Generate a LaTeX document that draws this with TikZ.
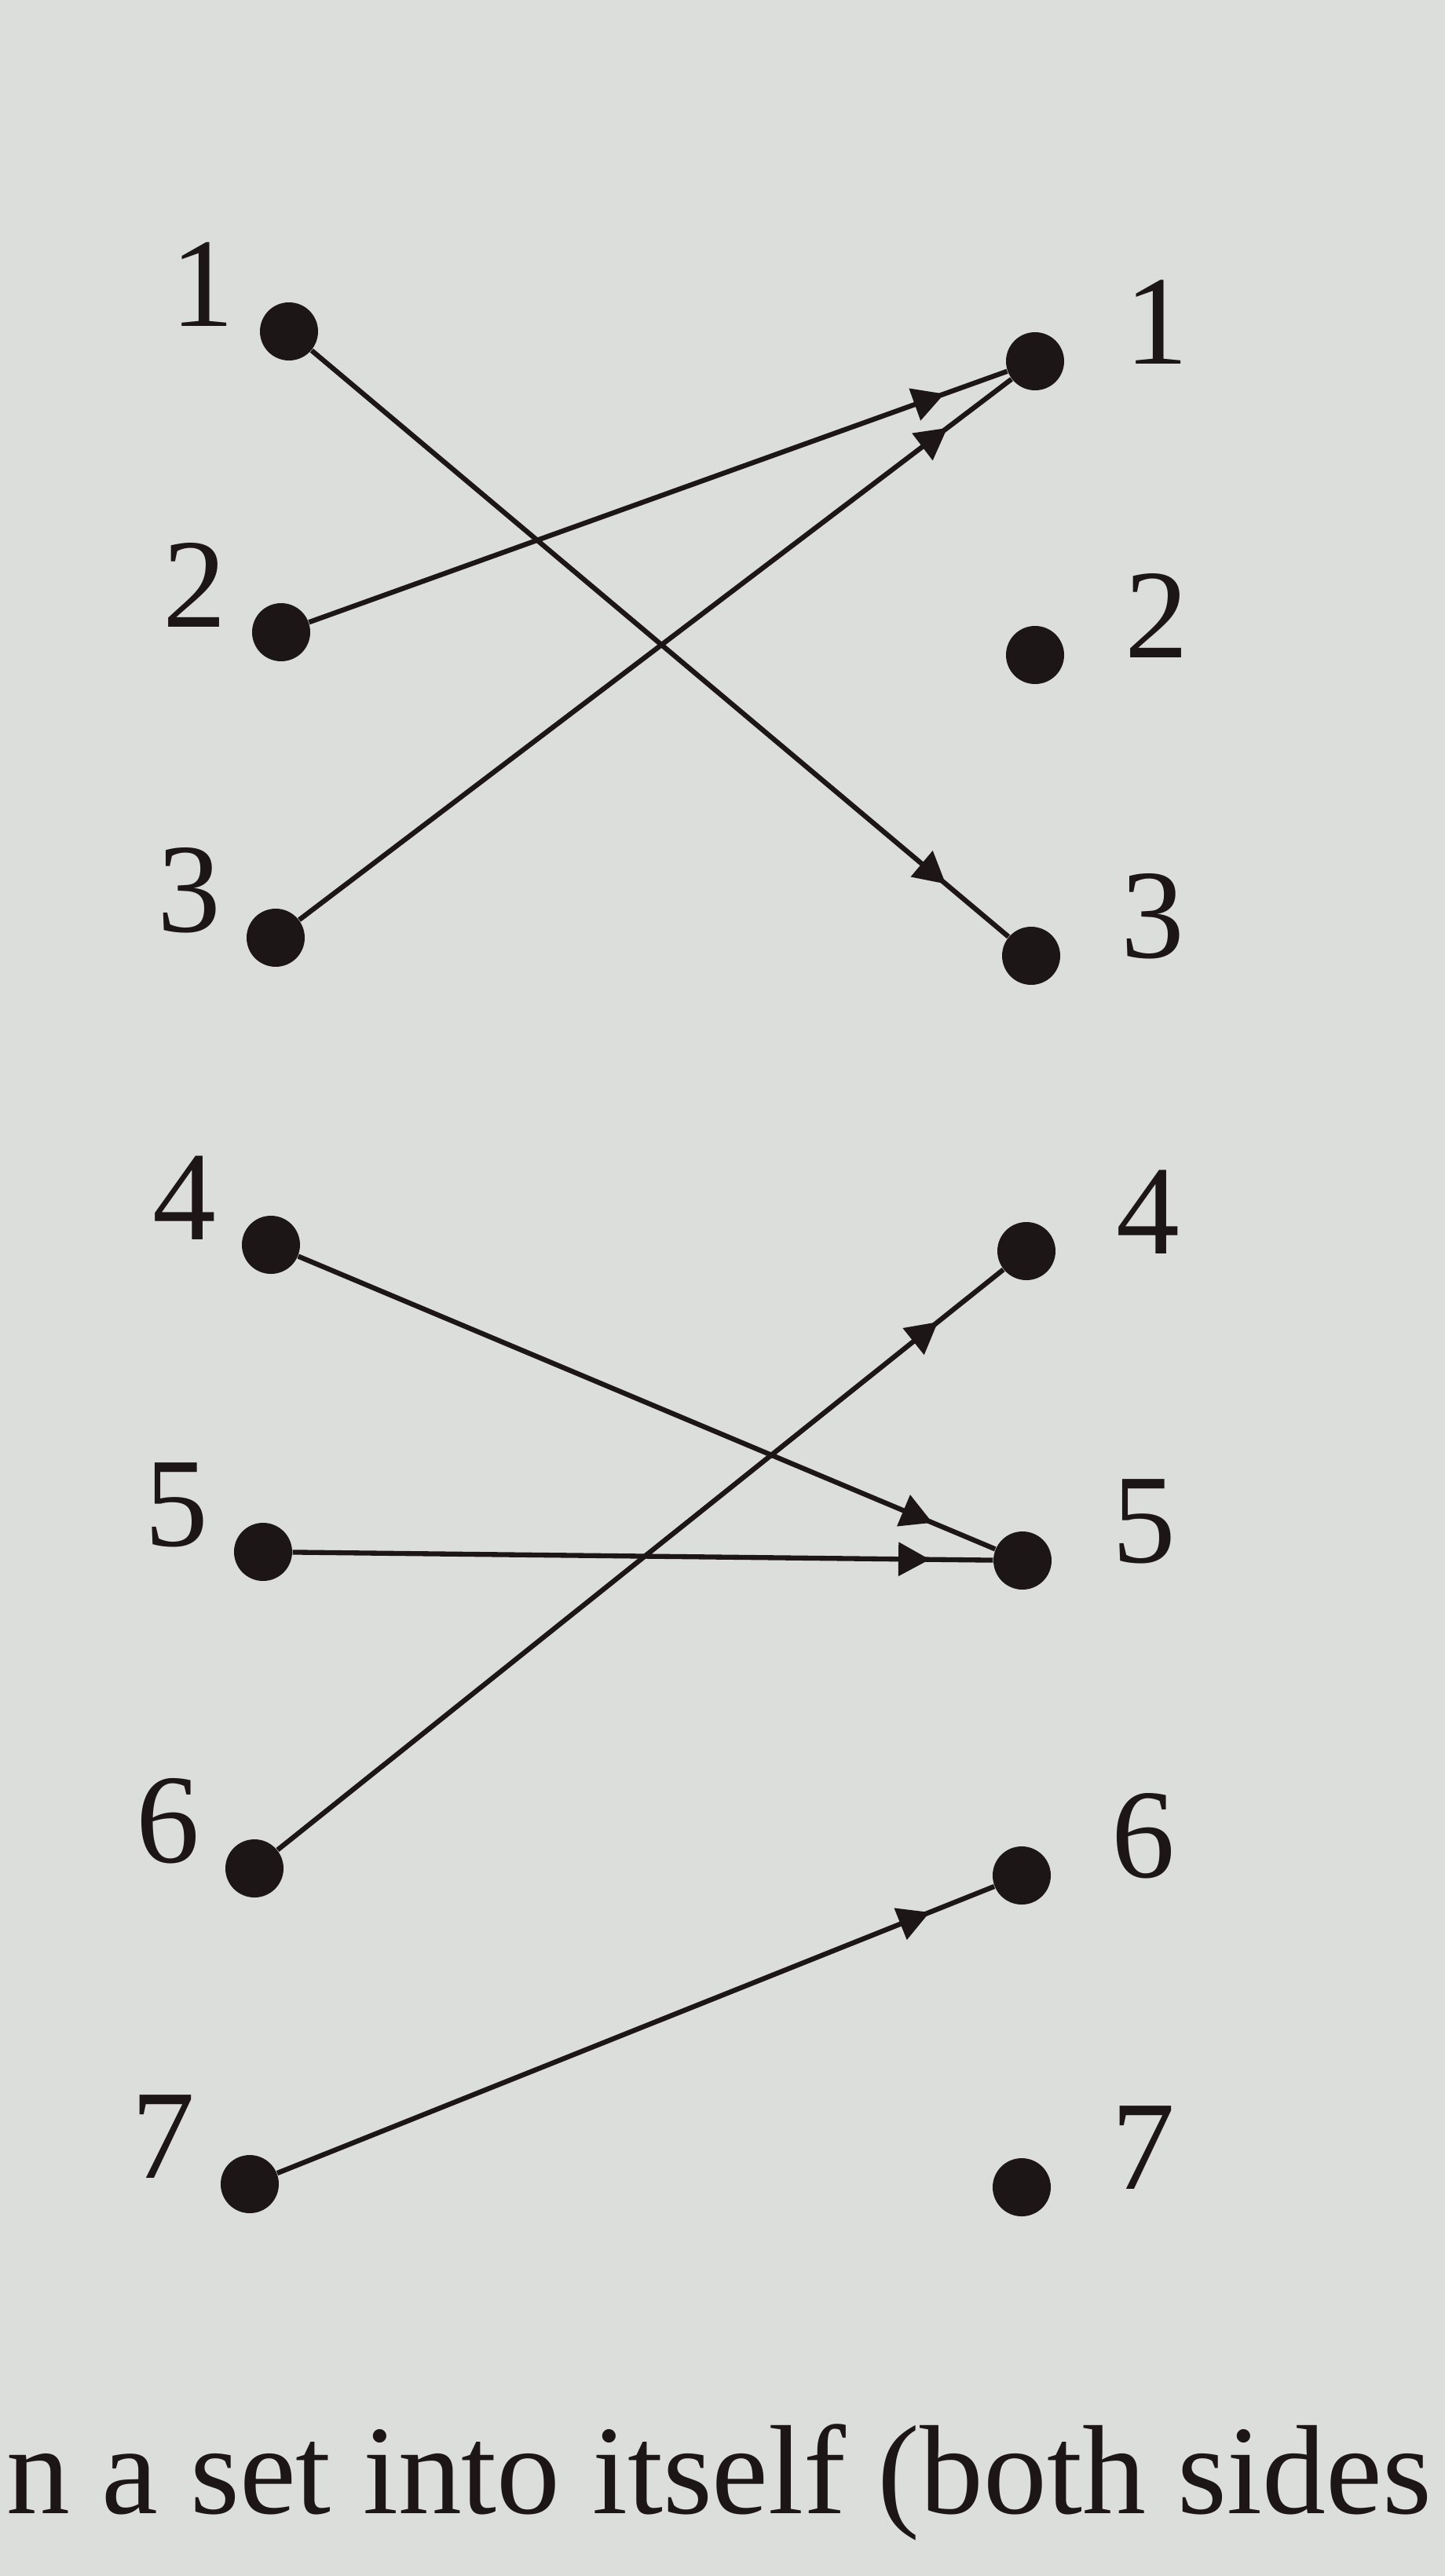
\documentclass[tikz,border=0pt]{standalone}
\usepackage{fontspec}
\setmainfont{Liberation Serif}
\usetikzlibrary{arrows.meta,decorations.markings}
\definecolor{paper}{RGB}{220,222,219}
\definecolor{ink}{RGB}{28,22,22}
\begin{document}
\begin{tikzpicture}
		\tikzstyle{every node}=[inner sep=1pt, align=center]
		\tikzstyle{dotpt}=[circle, fill=ink, minimum size=0.74cm, inner sep=0pt]
		\tikzstyle{numlbl}=[text=ink, font=\fontsize{46}{50}\selectfont]
		\tikzstyle{maparrow}=[color=ink, line width=1.8pt, postaction={decorate},
			decoration={markings, mark=at position 0.91 with {\arrow{Triangle[length=0.4cm, width=0.42cm]}}}]
		\fill[paper] (0,0) rectangle (18.4,-32.8);
		\useasboundingbox (0,0) rectangle (18.4,-32.8);
		% left side
		\node[dotpt] (a1) at (3.68, -4.22) {};
		\node[dotpt] (a2) at (3.58, -8.05) {};
		\node[dotpt] (a3) at (3.51, -11.94) {};
		\node[dotpt] (a4) at (3.45, -15.85) {};
		\node[dotpt] (a5) at (3.35, -19.76) {};
		\node[dotpt] (a6) at (3.24, -23.79) {};
		\node[dotpt] (a7) at (3.18, -27.81) {};
		\node[numlbl] (la1) at (2.58, -3.62) {1};
		\node[numlbl] (la2) at (2.48, -7.45) {2};
		\node[numlbl] (la3) at (2.41, -11.34) {3};
		\node[numlbl] (la4) at (2.35, -15.25) {4};
		\node[numlbl] (la5) at (2.25, -19.16) {5};
		\node[numlbl] (la6) at (2.14, -23.19) {6};
		\node[numlbl] (la7) at (2.08, -27.21) {7};
		% right side
		\node[dotpt] (b1) at (13.18, -4.60) {};
		\node[dotpt] (b2) at (13.18, -8.34) {};
		\node[dotpt] (b3) at (13.13, -12.17) {};
		\node[dotpt] (b4) at (13.07, -15.93) {};
		\node[dotpt] (b5) at (13.02, -19.87) {};
		\node[dotpt] (b6) at (13.01, -23.88) {};
		\node[dotpt] (b7) at (13.01, -27.85) {};
		\node[numlbl] (lb1) at (14.73, -4.10) {1};
		\node[numlbl] (lb2) at (14.73, -7.84) {2};
		\node[numlbl] (lb3) at (14.68, -11.67) {3};
		\node[numlbl] (lb4) at (14.62, -15.43) {4};
		\node[numlbl] (lb5) at (14.57, -19.37) {5};
		\node[numlbl] (lb6) at (14.56, -23.38) {6};
		\node[numlbl] (lb7) at (14.56, -27.35) {7};
		% the mapping
		\draw [maparrow] (a1) -- (b3);
		\draw [maparrow] (a2) -- (b1);
		\draw [maparrow] (a3) -- (b1);
		\draw [maparrow] (a4) -- (b5);
		\draw [maparrow] (a5) -- (b5);
		\draw [maparrow] (a6) -- (b4);
		\draw [maparrow] (a7) -- (b6);
		\node[numlbl, inner sep=0pt, anchor=base west] (cap) at (0.08, -32.0) {n a set into itself (both sides};
\end{tikzpicture}
\end{document}
